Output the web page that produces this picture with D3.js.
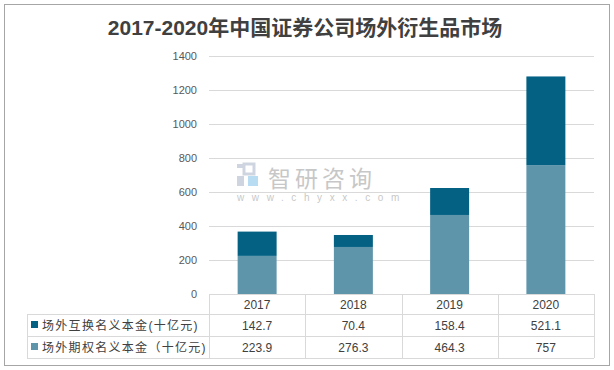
<!DOCTYPE html>
<html>
<head>
<meta charset="utf-8">
<script src="https://cdn.jsdelivr.net/npm/d3@7"></script>
<style>
  body { margin: 0; background: #fff; }
  svg { display: block; font-family: "Liberation Sans", "Noto Sans CJK SC", sans-serif; }
</style>
</head>
<body>
<div id="chart"></div>
<script>
const years = ['2017', '2018', '2019', '2020'];
const swapValues = [142.7, 70.4, 158.4, 521.1];
const optionValues = [223.9, 276.3, 464.3, 757];
const swapLabels = ['142.7', '70.4', '158.4', '521.1'];
const optionLabels = ['223.9', '276.3', '464.3', '757'];
const seriesNames = ['场外互换名义本金(十亿元)', '场外期权名义本金（十亿元)'];
const yTicks = [0, 200, 400, 600, 800, 1000, 1200, 1400];

const width = 614, height = 370;
const plot = {left: 209, right: 594, top: 55.7, bottom: 294};
const colors = ['#046184', '#5f95ab'];

const svg = d3.select('#chart').append('svg')
    .attr('width', width).attr('height', height);

// outer frame
svg.append('rect')
    .attr('x', 4.5).attr('y', 4.5)
    .attr('width', 605).attr('height', 361)
    .attr('fill', '#fff').attr('stroke', '#a6a6a6').attr('stroke-width', 1);

svg.append('text')
    .attr('x', 305).attr('y', 35)
    .attr('text-anchor', 'middle')
    .attr('font-size', 21).attr('font-weight', 'bold')
    .attr('fill', '#404040')
    .text('2017-2020年中国证券公司场外衍生品市场');

const x = d3.scaleBand().domain(years).range([plot.left, plot.right]).paddingInner(0.595).paddingOuter(0.2975);
const band = d3.scaleBand().domain(years).range([plot.left, plot.right]);
const y = d3.scaleLinear().domain([0, 1400]).range([plot.bottom, plot.top]);

// gridlines
svg.append('g').selectAll('line')
    .data(yTicks.filter(d => d > 0))
    .join('line')
    .attr('x1', plot.left).attr('x2', plot.right)
    .attr('y1', d => Math.round(y(d)) + 0.5).attr('y2', d => Math.round(y(d)) + 0.5)
    .attr('stroke', '#d9d9d9');

// y labels
svg.append('g').selectAll('text')
    .data(yTicks)
    .join('text')
    .attr('x', 197).attr('y', d => y(d) + 4)
    .attr('text-anchor', 'end')
    .attr('font-size', 11).attr('fill', '#595959')
    .text(d => d);

// watermark
const wm = svg.append('g').attr('opacity', 0.55);
wm.append('rect').attr('x', 237).attr('y', 164).attr('width', 7).attr('height', 4).attr('fill', '#a9b4c8');
wm.append('rect').attr('x', 244).attr('y', 164).attr('width', 10).attr('height', 10).attr('fill', 'none').attr('stroke', '#a9b4c8').attr('stroke-width', 3);
wm.append('rect').attr('x', 237).attr('y', 176).attr('width', 7).attr('height', 10).attr('fill', '#a9b4c8');
wm.append('rect').attr('x', 248).attr('y', 176).attr('width', 10).attr('height', 10).attr('fill', '#7fc0e6');
wm.append('text').attr('x', 268).attr('y', 187)
    .attr('font-size', 23).attr('fill', '#9a9a9a').attr('letter-spacing', 4)
    .text('智研咨询');
wm.append('text').attr('x', 237).attr('y', 201)
    .attr('font-size', 10).attr('fill', '#9a9a9a').attr('letter-spacing', 7.6)
    .text('www.chyxx.com');

// stacked bars
const stack = years.map((yr, i) => ({year: yr, option: optionValues[i], swap: swapValues[i]}));
const bars = svg.append('g');
bars.selectAll('rect.opt')
    .data(stack).join('rect').attr('class', 'opt')
    .attr('x', d => x(d.year)).attr('width', x.bandwidth())
    .attr('y', d => y(d.option)).attr('height', d => y(0) - y(d.option))
    .attr('fill', colors[1]);
bars.selectAll('rect.swp')
    .data(stack).join('rect').attr('class', 'swp')
    .attr('x', d => x(d.year)).attr('width', x.bandwidth())
    .attr('y', d => y(d.option + d.swap)).attr('height', d => y(d.option) - y(d.option + d.swap))
    .attr('fill', colors[0]);

// data table
const rowTop = [294, 314, 336, 358];
const tableLeft = 27;
const grid = svg.append('g').attr('stroke', '#d9d9d9').attr('fill', 'none');
grid.append('line').attr('x1', plot.left).attr('x2', plot.right).attr('y1', rowTop[0] + 0.5).attr('y2', rowTop[0] + 0.5);
[1, 2, 3].forEach(r => {
  grid.append('line').attr('x1', tableLeft).attr('x2', plot.right)
      .attr('y1', rowTop[r] + 0.5).attr('y2', rowTop[r] + 0.5);
});
grid.append('line').attr('x1', tableLeft + 0.5).attr('x2', tableLeft + 0.5).attr('y1', rowTop[1]).attr('y2', rowTop[3]);
years.concat(['end']).forEach((yr, i) => {
  const xv = plot.left + i * band.bandwidth();
  grid.append('line').attr('x1', Math.round(xv) + 0.5).attr('x2', Math.round(xv) + 0.5)
      .attr('y1', rowTop[0]).attr('y2', rowTop[3]);
});

const tbl = svg.append('g').attr('font-size', 12).attr('fill', '#404040').attr('text-anchor', 'middle');
tbl.selectAll('text.yr').data(years).join('text').attr('class', 'yr')
    .attr('x', d => band(d) + band.bandwidth() / 2).attr('y', rowTop[0] + 14.5).text(d => d);
tbl.selectAll('text.sw').data(swapLabels).join('text').attr('class', 'sw')
    .attr('x', (d, i) => band(years[i]) + band.bandwidth() / 2).attr('y', rowTop[1] + 15.5).text(d => d);
tbl.selectAll('text.op').data(optionLabels).join('text').attr('class', 'op')
    .attr('x', (d, i) => band(years[i]) + band.bandwidth() / 2).attr('y', rowTop[2] + 15.5).text(d => d);

// legend keys
seriesNames.forEach((name, i) => {
  svg.append('rect').attr('x', 31).attr('y', rowTop[i + 1] + 7).attr('width', 7).attr('height', 7).attr('fill', colors[i]);
  svg.append('text').attr('x', 42).attr('y', rowTop[i + 1] + 15.5)
      .attr('font-size', 12).attr('fill', '#404040').attr('letter-spacing', 1.3)
      .text(name);
});
</script>
</body>
</html>
